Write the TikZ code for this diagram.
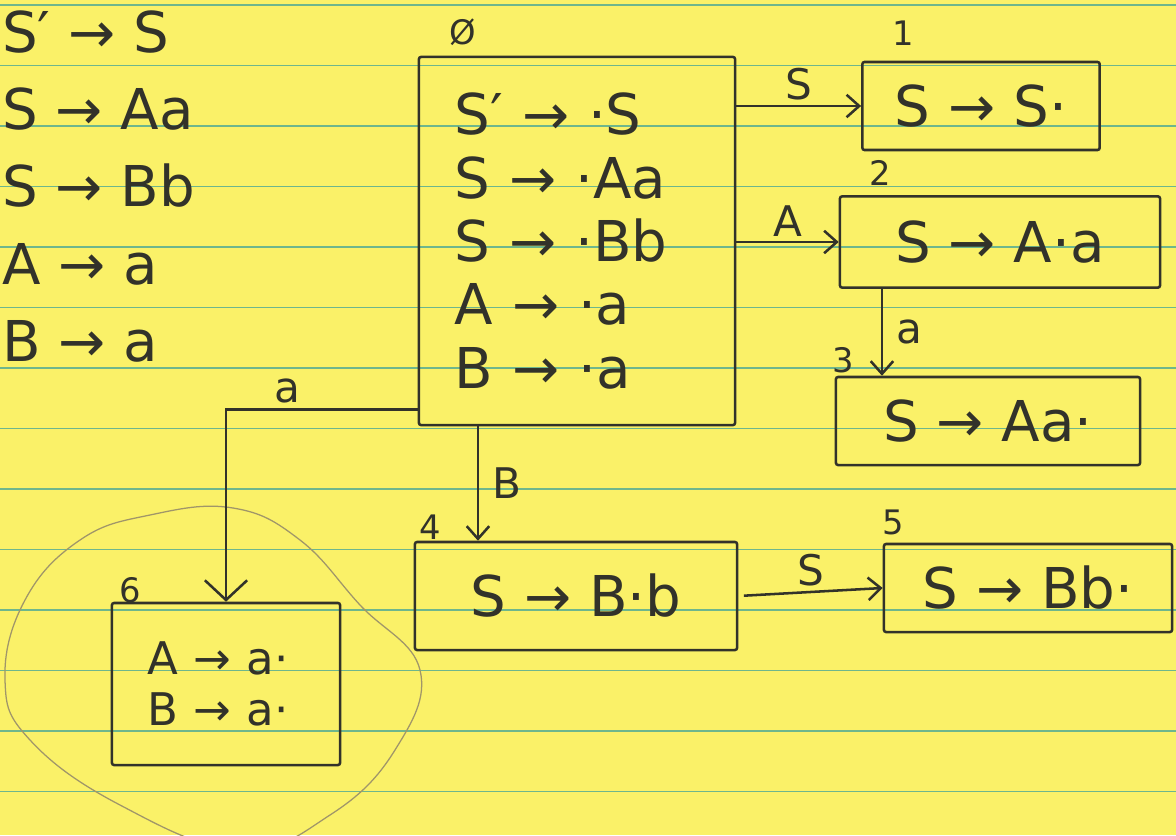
\documentclass[tikz,border=0pt]{standalone}
\usepackage{fontspec}
\setmainfont{DejaVu Sans}
\usetikzlibrary{positioning,arrows.meta}
\definecolor{paper}{RGB}{250,241,104}
\definecolor{ruling}{RGB}{110,182,140}
\definecolor{ink}{RGB}{50,50,42}
\definecolor{pencil}{RGB}{160,150,105}
\def\hand#1#2{\fontsize{#1}{#2}\selectfont}

\begin{document}
\begin{tikzpicture}[x=0.025cm, y=-0.025cm,
                    every node/.style = {text=ink},
                    itemset/.style = {draw=ink, line width=1.8pt, shape=rectangle,
                      inner sep=0pt, font=\hand{40}{45}, rounded corners=1.5pt},
                    statenum/.style = {font=\hand{24}{26}},
                    edgelbl/.style = {font=\hand{30}{32}},
                    goto/.style = {draw=ink, line width=1.8pt,
                      -{Straight Barb[length=9pt,width=16pt,line width=1.8pt]}}]
  \useasboundingbox (0,0) rectangle (1176,835);
  \fill[paper] (0,0) rectangle (1176,835);
  \foreach \i in {0,...,13}
    \draw[ruling, line width=1pt] (0,{5+60.5*\i}) -- (1176,{5+60.5*\i});

  \node[anchor=north west, align=left, inner sep=0pt, font=\hand{40}{55}]
    (grammar) at (2,10) {S′ → S\\S → Aa\\S → Bb\\A → a\\B → a};

  \node[itemset, minimum width=7.9cm, minimum height=9.2cm, align=left, text width=6.1cm]
    (s0) at (577,241) {S′ → ·S\\S → ·Aa\\S → ·Bb\\A → ·a\\B → ·a};
  \node[itemset, minimum width=5.93cm, minimum height=2.2cm] (s1) at (981,106) {S → S·};
  \node[itemset, minimum width=8cm, minimum height=2.28cm] (s2) at (1000,242) {S → A·a};
  \node[itemset, minimum width=7.6cm, minimum height=2.2cm] (s3) at (988,421) {S → Aa·};
  \node[itemset, minimum width=8.05cm, minimum height=2.7cm] (s4) at (576,596) {S → B·b};
  \node[itemset, minimum width=7.2cm, minimum height=2.2cm] (s5) at (1028,588) {S → Bb·};
  \node[itemset, font=\hand{32}{36}, minimum width=5.7cm, minimum height=4.05cm,
        align=left, text width=3.9cm] (s6) at (226,684) {A → a·\\B → a·};

  \node[statenum] (n0) at (463,32) {Ø};
  \node[statenum] (n1) at (903,33) {1};
  \node[statenum] (n2) at (880,173) {2};
  \node[statenum] (n3) at (843,360) {3};
  \node[statenum] (n4) at (430,527) {4};
  \node[statenum] (n5) at (893,522) {5};
  \node[statenum] (n6) at (130,590) {6};

  \draw[pencil, line width=0.9pt] plot[smooth cycle, tension=0.7] coordinates
    {(233,508) (300,540) (360,605) (420,670) (395,750) (330,815) (240,850)
     (120,805) (30,740) (5,680) (25,600) (80,540) (150,515)};

  \coordinate (a3) at ([xshift=-2.65cm]s3.north);
  \coordinate (b4) at ([xshift=-2.45cm]s4.north);

  \draw[goto] (s0.east |- s1) -- (s1.west) node[edgelbl, midway, above] {S};
  \draw[goto] (s0.east |- s2) -- (s2.west) node[edgelbl, midway, above] {A};
  \draw[goto] (s2.south -| a3) -- (a3) node[edgelbl, midway, right=6pt] {a};
  \draw[goto] (s0.south -| b4) -- (b4) node[edgelbl, midway, right=6pt] {B};
  \draw[goto, shorten <=4pt] (s4.east) -- (s5.west) node[edgelbl, midway, above] {S};
  \draw[goto, -{Straight Barb[length=14pt,width=30pt,line width=1.8pt]}]
    ([yshift=0.42cm]s0.south west) -| (s6.north) node[edgelbl, pos=0.34, above] {a};
\end{tikzpicture}
\end{document}
